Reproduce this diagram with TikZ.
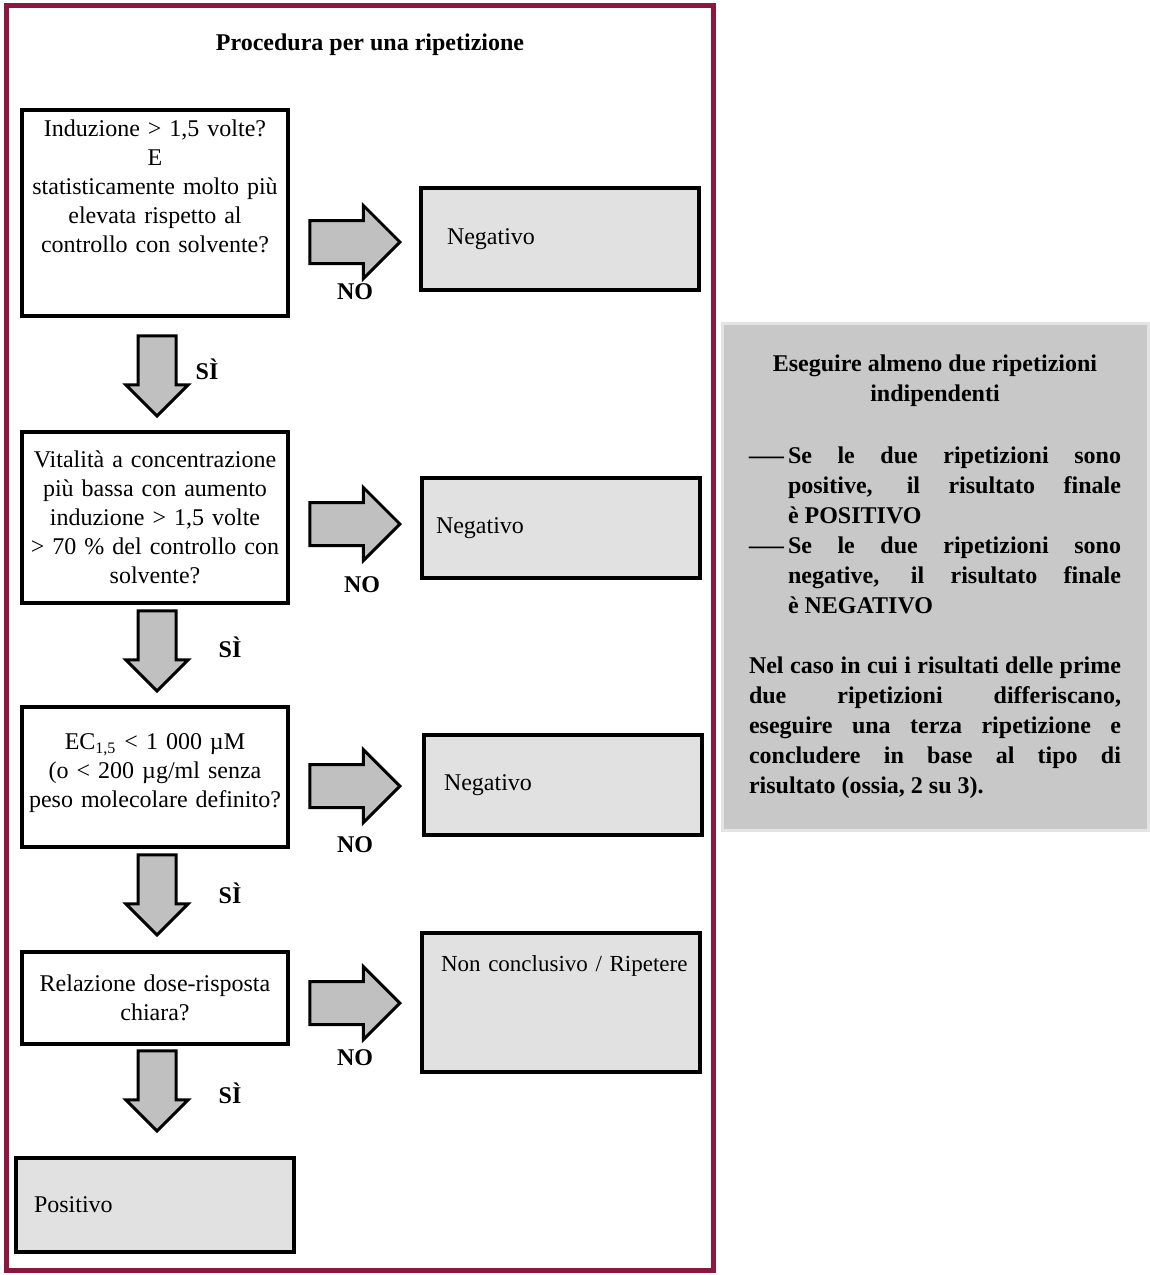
\documentclass[tikz,border=0pt]{standalone}
\usepackage{fontspec}
\setmainfont{Liberation Serif}
\usepackage{graphicx}
\usetikzlibrary{shapes.arrows}
\definecolor{framered}{RGB}{140,22,62}
\definecolor{resgray}{RGB}{225,225,225}
\definecolor{notegray}{RGB}{200,200,200}
\definecolor{notedraw}{RGB}{228,228,228}
\definecolor{arrowgray}{RGB}{192,192,192}
\tikzset{
  askbox/.style={draw, fill=white, line width=2pt, text width=129pt, inner xsep=2pt, inner ysep=0pt, align=center, font=\fontsize{12}{14.5}\selectfont},
  resbox/.style={draw, fill=resgray, line width=2pt, text width=134pt, inner xsep=2.5pt, inner ysep=0pt, align=left, font=\fontsize{12}{14.5}\selectfont},
  notebox/.style={draw=notedraw, fill=notegray, line width=1.5pt, text width=186pt, inner xsep=13.5pt, minimum height=253.5pt, align=justify, font=\fontsize{12}{15}\selectfont\bfseries},
  rarrow/.style={single arrow, draw, fill=arrowgray, line width=1.5pt, inner sep=10pt, single arrow head extend=7.5pt, minimum height=45pt, anchor=tip},
  darrow/.style={single arrow, draw, fill=arrowgray, line width=1.5pt, inner sep=8.75pt, single arrow head extend=6pt, minimum height=40pt, shape border rotate=270, anchor=tip},
  answer/.style={font=\fontsize{12}{14.5}\selectfont\bfseries}
}
\newcommand{\notedash}{\makebox[19.5pt][l]{\scalebox{1.45}[1]{—}}}
% riga vuota in fondo per alzare il testo
\newcommand{\lift}[1]{\par\vspace*{#1}\mbox{}}
\begin{document}
\begin{tikzpicture}[x=0.5pt,y=-0.5pt]
\useasboundingbox (0,0) rectangle (1150,1275);
\draw[framered, line width=2.5pt] (6,5) rectangle (713,1270);
\node[answer] (title) at (370,45) {Procedura per una ripetizione};

% domande
\node[askbox, minimum height=103pt] (ask1) at (155,213) {Induzione > 1,5 volte?\\ E\\ statisticamente molto più\\ elevata rispetto al\\ controllo con solvente?\lift{12pt}};
\node[askbox, minimum height=85.5pt] (ask2) at (155,517.5) {Vitalità a concentrazione\\ più bassa con aumento\\ induzione > 1,5 volte\\ > 70 \% del controllo con\\ solvente?};
\node[askbox, minimum height=70pt] (ask3) at (155,777) {EC\textsubscript{1,5} < 1 000 µM\\ (o < 200 µg/ml senza\\ peso molecolare definito?\lift{-8.5pt}};
\node[askbox, minimum height=46pt] (ask4) at (155,998) {Relazione dose-risposta\\ chiara?};

% esiti
\node[resbox, minimum height=51pt] (res1) at (560,239) {\hspace*{10.5pt}Negativo};
\node[resbox, minimum height=50pt] (res2) at (561,528) {\hspace*{4.5pt}Negativo};
\node[resbox, minimum height=50pt] (res3) at (563,785) {\hspace*{7.5pt}Negativo};
\node[resbox, minimum height=69.5pt, font=\fontsize{11.5}{14.5}\selectfont] (res4) at (561,1002.5) {\hspace*{7pt}\mbox{Non conclusivo / Ripetere}\lift{24pt}};
\node[resbox, minimum height=47pt] (pos) at (155,1205) {\hspace*{6.5pt}Positivo};

% frecce
\node[rarrow] (no1) at (402,242) {};
\node[rarrow] (no2) at (402,524) {};
\node[rarrow] (no3) at (402,786) {};
\node[rarrow] (no4) at (402,1003) {};
\node[darrow] (si1) at (157,418) {};
\node[darrow] (si2) at (157,693) {};
\node[darrow] (si3) at (157,937) {};
\node[darrow] (si4) at (157,1133) {};

\node[answer] (nolab1) at (355,292) {NO};
\node[answer] (nolab2) at (362,585) {NO};
\node[answer] (nolab3) at (355,845) {NO};
\node[answer] (nolab4) at (355,1058) {NO};
\node[answer] (silab1) at (207,369) {SÌ};
\node[answer] (silab2) at (230,647) {SÌ};
\node[answer] (silab3) at (230,893) {SÌ};
\node[answer] (silab4) at (230,1093) {SÌ};

% nota
\node[notebox] (note) at (935,576.5) {%
  {\centering Eseguire almeno due ripetizioni\\ indipendenti\par}
  \vspace{16pt}
  \noindent\hangindent=19.5pt\hangafter=1\notedash Se le due ripetizioni sono\linebreak positive, il risultato finale\linebreak è POSITIVO\par
  \noindent\hangindent=19.5pt\hangafter=1\notedash Se le due ripetizioni sono\linebreak negative, il risultato finale\linebreak è NEGATIVO\par
  \vspace{15pt}
  \noindent Nel caso in cui i risultati delle prime\linebreak due ripetizioni differiscano,\linebreak eseguire una terza ripetizione e\linebreak concludere in base al tipo di\linebreak risultato (ossia, 2 su 3).};
\end{tikzpicture}
\end{document}
